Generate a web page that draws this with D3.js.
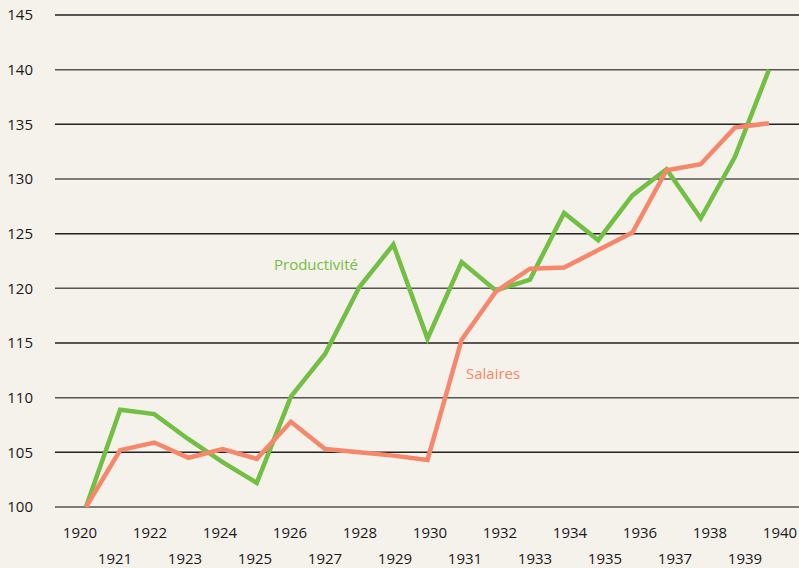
<!DOCTYPE html>
<html><head><meta charset="utf-8">
<script src="https://cdn.jsdelivr.net/npm/d3@7"></script>
<style>
html,body{margin:0;padding:0;background:#F5F1EB;}
svg{display:block;}
text{font-family:"Open Sans",sans-serif;}
</style></head>
<body>
<svg id="c" width="799" height="568"></svg>
<script>
const years = [1920,1921,1922,1923,1924,1925,1926,1927,1928,1929,1930,1931,1932,1933,1934,1935,1936,1937,1938,1939,1940];
const productivite = [100,108.9,108.5,106.2,104.1,102.2,110.1,114.0,120.1,124.0,115.4,122.4,119.8,120.8,126.9,124.4,128.5,130.9,126.4,132.0,140.0];
const salaires = [100,105.2,105.9,104.5,105.3,104.4,107.8,105.3,105.0,104.7,104.3,115.3,119.7,121.8,121.9,123.5,125.1,130.8,131.35,134.7,135.1];
const yTicks = [100,105,110,115,120,125,130,135,140,145];
const seriesNames = ["Productivité","Salaires"];
const colors = ["#72BF44","#F6876B"];

const svg = d3.select("#c");
svg.append("rect").attr("width",799).attr("height",568).attr("fill","#F5F1EB");

const x = d3.scaleLinear().domain([1920,1940]).range([86,769]);
const xLab = d3.scaleLinear().domain([1920,1940]).range([80,780]);
const y = d3.scaleLinear().domain([100,145]).range([507,15]);

// grid
svg.append("g").selectAll("line").data(yTicks).join("line")
  .attr("x1",55).attr("x2",799)
  .attr("y1",d=>y(d)).attr("y2",d=>y(d))
  .attr("stroke",(d,i)=>i%2? "#222":"#555").attr("stroke-width",1.5);

// y labels
svg.append("g").selectAll("text").data(yTicks).join("text")
  .attr("x",33).attr("y",d=>y(d)).attr("dy","0.35em")
  .attr("text-anchor","end").attr("font-size",15).attr("fill","#1a1a1a")
  .text(d=>d);

// x labels
svg.append("g").selectAll("text").data(years).join("text")
  .attr("x",d=>xLab(d)).attr("y",(d,i)=> i%2===0 ? 538 : 564)
  .attr("text-anchor","middle").attr("font-size",15).attr("fill","#1a1a1a")
  .text(d=>d);

const line = d3.line().x((d,i)=>x(years[i])).y(d=>y(d));
[productivite,salaires].forEach((s,k)=>{
  svg.append("path").datum(s).attr("d",line)
    .attr("fill","none").attr("stroke",colors[k]).attr("stroke-width",4.5)
    .attr("stroke-linejoin","miter").attr("stroke-linecap","butt");
});

svg.append("text").attr("x",274).attr("y",270).attr("font-size",15).attr("fill",colors[0]).text(seriesNames[0]);
svg.append("text").attr("x",466).attr("y",379).attr("font-size",15).attr("fill",colors[1]).text(seriesNames[1]);
</script>
</body></html>
